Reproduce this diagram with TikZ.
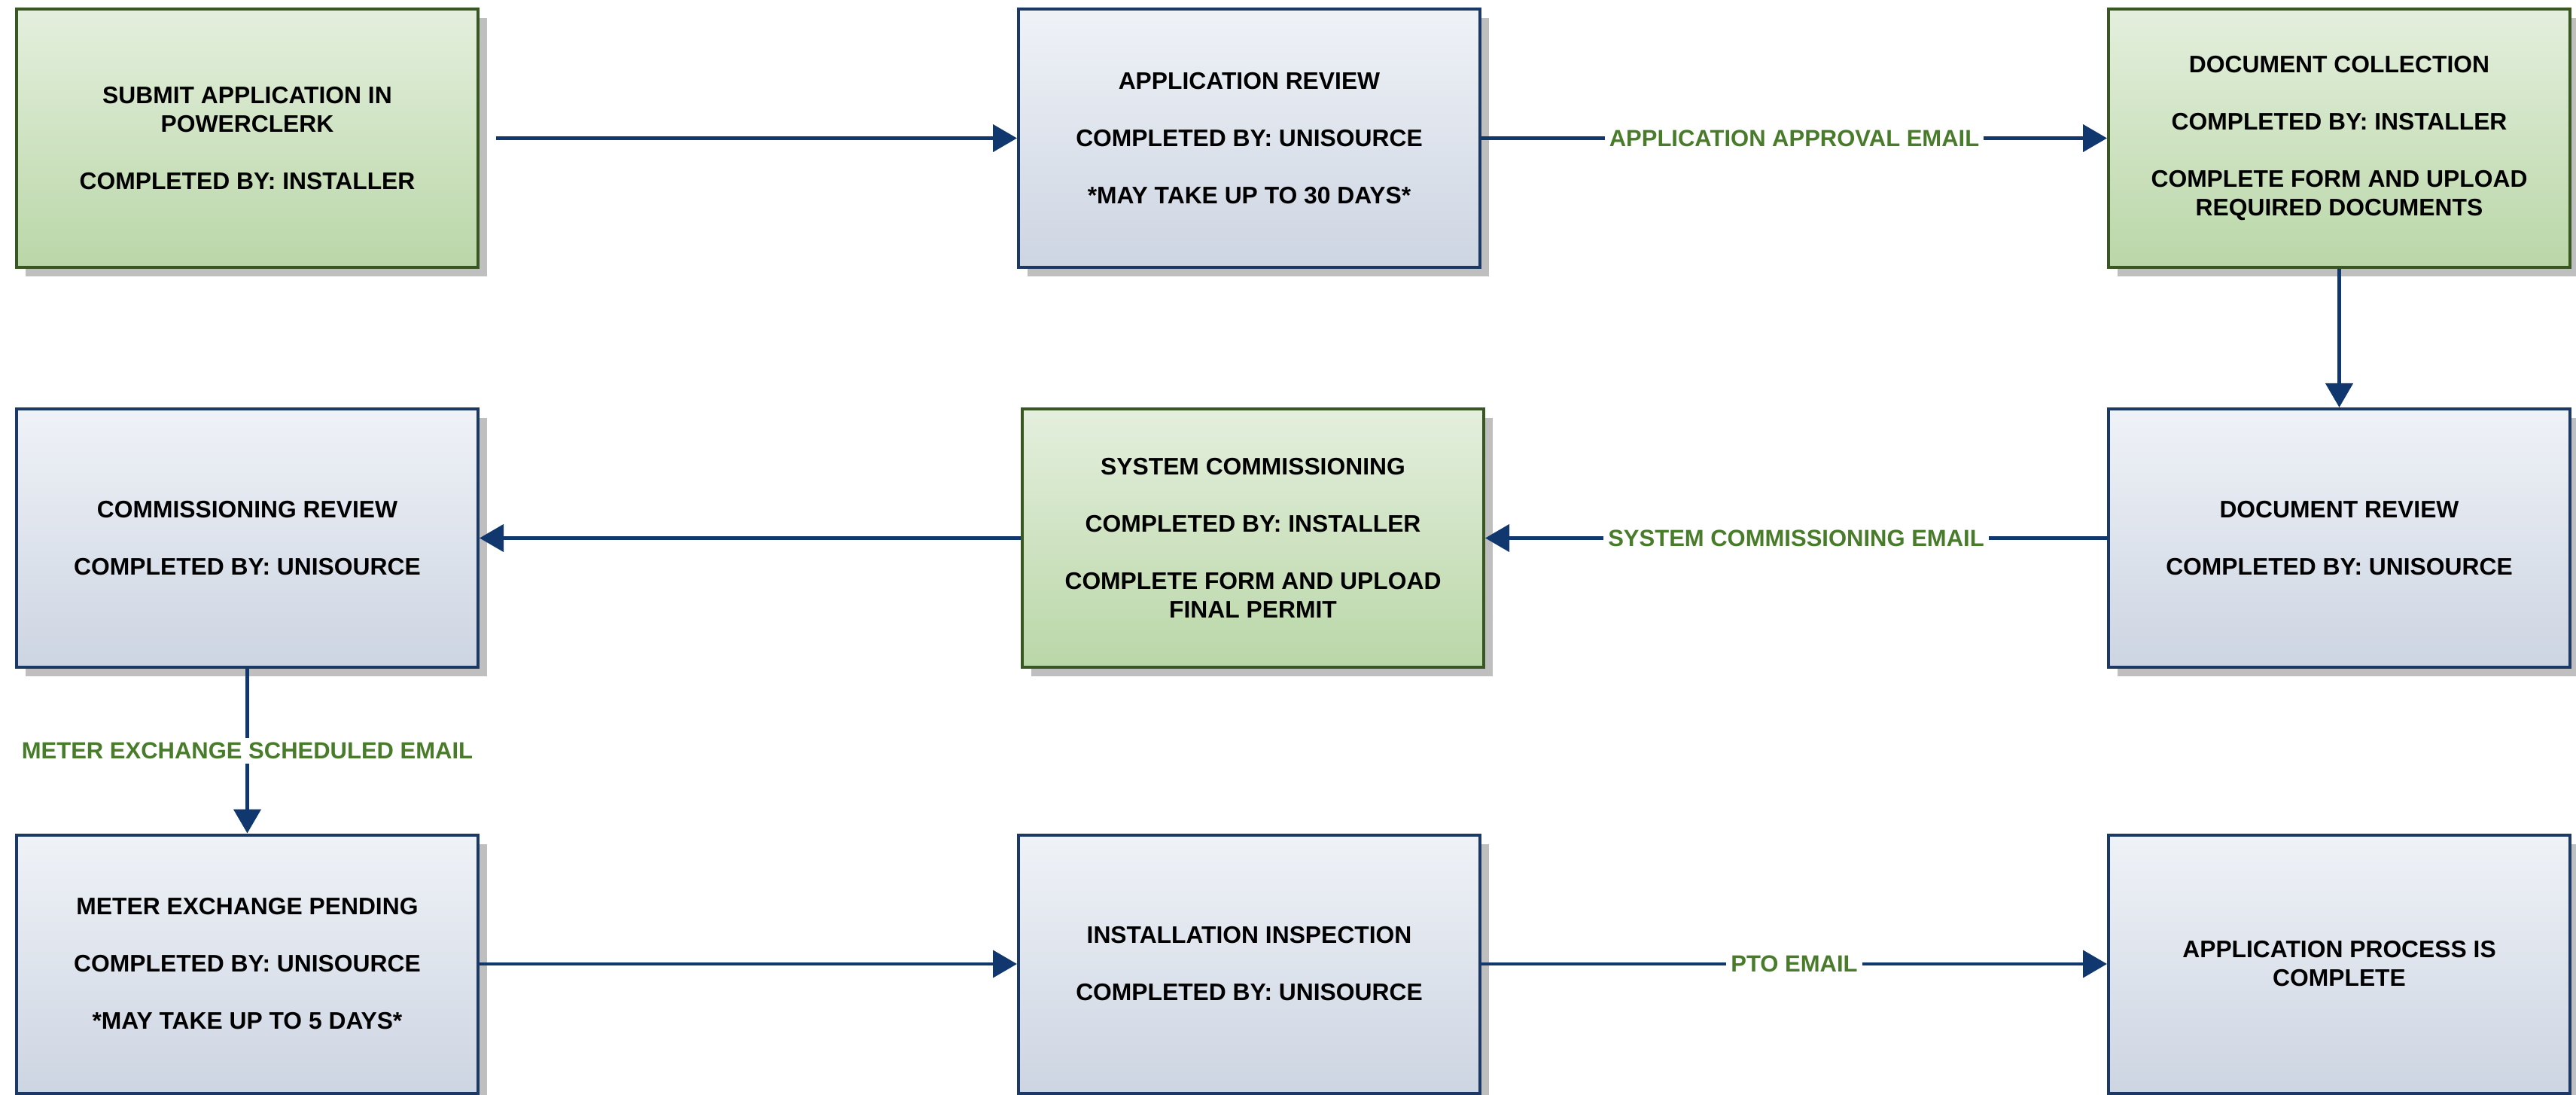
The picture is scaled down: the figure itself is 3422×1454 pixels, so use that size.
\documentclass[tikz,border=0pt]{standalone}
\usepackage{fontspec}
\setmainfont{Liberation Sans}
\usetikzlibrary{arrows.meta,shadows}
\definecolor{gtop}{RGB}{228,239,221}
\definecolor{gbot}{RGB}{186,215,168}
\definecolor{gborder}{RGB}{56,87,35}
\definecolor{btop}{RGB}{239,242,247}
\definecolor{bbot}{RGB}{205,213,226}
\definecolor{bborder}{RGB}{28,56,100}
\definecolor{arrowc}{RGB}{16,55,110}
\definecolor{lblgreen}{RGB}{72,124,42}
\begin{document}
\begin{tikzpicture}[x=0.5pt,y=-0.5pt,
 box/.style={rectangle, minimum width=306.5pt, minimum height=171.5pt, line width=2pt,
   align=center, font=\fontsize{15.9}{19}\selectfont\bfseries, text=black, inner sep=0pt,
   drop shadow={shadow xshift=6pt,shadow yshift=-6pt,fill=black,opacity=0.25}},
 gbox/.style={box, draw=gborder, top color=gtop, bottom color=gbot},
 bbox/.style={box, draw=bborder, top color=btop, bottom color=bbot},
 conn/.style={draw=arrowc, line width=2.2pt, -{Triangle[width=18pt,length=16pt]}},
 lbl/.style={fill=white, text=lblgreen, font=\fontsize{15.5}{19}\selectfont\bfseries, inner sep=3pt}
]
\useasboundingbox (0,0) rectangle (3422,1454);

\node[gbox] (submit) at (328.5,183.5) {SUBMIT APPLICATION IN\\POWERCLERK\\[19pt]COMPLETED BY: INSTALLER};
\node[bbox] (appreview) at (1659.5,183.5) {APPLICATION REVIEW\\[19pt]COMPLETED BY: UNISOURCE\\[19pt]*MAY TAKE UP TO 30 DAYS*};
\node[gbox] (doccoll) at (3107.5,183.5) {DOCUMENT COLLECTION\\[19pt]COMPLETED BY: INSTALLER\\[19pt]COMPLETE FORM AND UPLOAD\\REQUIRED DOCUMENTS};

\node[bbox] (commreview) at (328.5,714.5) {COMMISSIONING REVIEW\\[19pt]COMPLETED BY: UNISOURCE};
\node[gbox] (syscomm) at (1664.5,714.5) {SYSTEM COMMISSIONING\\[19pt]COMPLETED BY: INSTALLER\\[19pt]COMPLETE FORM AND UPLOAD\\FINAL PERMIT};
\node[bbox] (docreview) at (3107.5,714.5) {DOCUMENT REVIEW\\[19pt]COMPLETED BY: UNISOURCE};

\node[bbox] (meter) at (328.5,1280) {METER EXCHANGE PENDING\\[19pt]COMPLETED BY: UNISOURCE\\[19pt]*MAY TAKE UP TO 5 DAYS*};
\node[bbox] (inspect) at (1659.5,1280) {INSTALLATION INSPECTION\\[19pt]COMPLETED BY: UNISOURCE};
\node[bbox] (complete) at (3107.5,1280) {APPLICATION PROCESS IS\\COMPLETE};

\draw[conn, shorten <=11pt] (submit) -- (appreview);
\draw[conn] (appreview) -- node[lbl] {APPLICATION APPROVAL EMAIL} (doccoll);
\draw[conn] (doccoll) -- (docreview);
\draw[conn] (docreview) -- node[lbl] {SYSTEM COMMISSIONING EMAIL} (syscomm);
\draw[conn] (syscomm) -- (commreview);
\draw[conn] (commreview) -- node[lbl] {METER EXCHANGE SCHEDULED EMAIL} (meter);
\draw[conn] (meter) -- (inspect);
\draw[conn] (inspect) -- node[lbl] {PTO EMAIL} (complete);
\end{tikzpicture}
\end{document}
